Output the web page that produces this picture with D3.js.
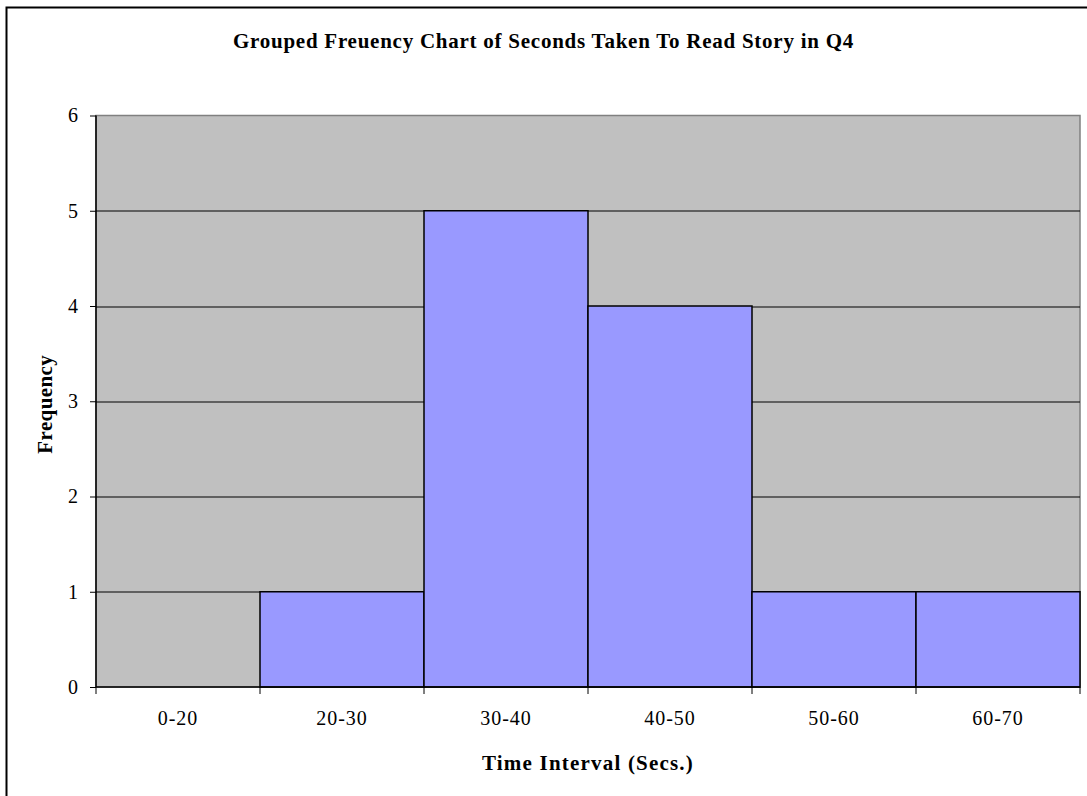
<!DOCTYPE html>
<html>
<head>
<meta charset="utf-8">
<script src="https://cdn.jsdelivr.net/npm/d3@7"></script>
<style>
  body { margin: 0; background: #fff; }
  svg text { font-family: "Liberation Serif", "Times New Roman", serif; fill: #000; }
</style>
</head>
<body>
<div id="chart"></div>
<script>
// data
var categories = ["0-20", "20-30", "30-40", "40-50", "50-60", "60-70"];
var frequencies = [0, 1, 5, 4, 1, 1];
var yTicks = [0, 1, 2, 3, 4, 5, 6];

var dataset = categories.map(function(c, i) {
  return {label: c, value: frequencies[i]};
});

// chart dimensions
var width = 1087;
var height = 796;
var margin = {top: 115.5, right: 7, bottom: 109, left: 96};
var plotW = width - margin.left - margin.right;
var plotH = height - margin.top - margin.bottom;

var svg = d3.select('#chart')
  .append('svg')
  .attr('width', width)
  .attr('height', height);

// outer chart border (right & bottom fall off the page)
svg.append('rect')
  .attr('x', 6.5).attr('y', 7.5)
  .attr('width', width + 10).attr('height', height + 10)
  .attr('fill', 'none')
  .attr('stroke', '#000')
  .attr('stroke-width', 2);

var g = svg.append('g')
  .attr('transform', 'translate(' + margin.left + ',' + margin.top + ')');

var x = d3.scaleBand()
  .domain(categories)
  .range([0, plotW])
  .padding(0);

var y = d3.scaleLinear()
  .domain([0, 6])
  .range([plotH, 0]);

// plot area
g.append('rect')
  .attr('width', plotW)
  .attr('height', plotH)
  .attr('fill', '#C0C0C0')
  .attr('stroke', '#808080')
  .attr('stroke-width', 1.5);

// gridlines
g.selectAll('.grid')
  .data(yTicks.filter(function(d) { return d > 0 && d < 6; }))
  .enter()
  .append('line')
  .attr('x1', 0).attr('x2', plotW)
  .attr('y1', function(d) { return Math.round(y(d)) + 0.5; })
  .attr('y2', function(d) { return Math.round(y(d)) + 0.5; })
  .attr('stroke', '#000')
  .attr('stroke-width', 1);

// bars
g.selectAll('.bar')
  .data(dataset.filter(function(d) { return d.value > 0; }))
  .enter()
  .append('rect')
  .attr('class', 'bar')
  .attr('x', function(d) { return x(d.label); })
  .attr('y', function(d) { return y(d.value); })
  .attr('height', function(d) { return plotH - y(d.value); })
  .attr('width', x.bandwidth())
  .attr('fill', '#9999FF')
  .attr('stroke', '#000')
  .attr('stroke-width', 1.5);

// y axis
var yAxis = g.append('g')
  .call(d3.axisLeft(y).tickValues(yTicks).tickSize(6).tickPadding(12).tickFormat(d3.format('d')));
yAxis.select('.domain').attr('stroke', '#000').attr('stroke-width', 1.5).attr('d', 'M0,' + plotH + 'V0');
yAxis.selectAll('.tick line').attr('stroke', '#000');
yAxis.selectAll('text').attr('font-family', null).style('font-size', '20px');

// x axis with ticks on band boundaries
var xAxis = g.append('g')
  .attr('transform', 'translate(0,' + plotH + ')')
  .call(d3.axisBottom(x).tickSize(0).tickPadding(22));
xAxis.select('.domain').attr('stroke', '#000').attr('stroke-width', 1.5).attr('d', 'M0,0H' + plotW);
xAxis.selectAll('text').attr('font-family', null).attr('dy', null).attr('y', 38)
  .style('font-size', '20px').style('letter-spacing', '1px');
xAxis.selectAll('.edge')
  .data(d3.range(categories.length + 1))
  .enter()
  .append('line')
  .attr('x1', function(i) { return i * x.step(); })
  .attr('x2', function(i) { return i * x.step(); })
  .attr('y1', 0).attr('y2', 7)
  .attr('stroke', '#000');

// title
svg.append('text')
  .attr('x', width / 2)
  .attr('y', 48)
  .attr('text-anchor', 'middle')
  .style('font-size', '21px')
  .style('font-weight', 'bold')
  .style('letter-spacing', '0.75px')
  .text('Grouped Freuency Chart of Seconds Taken To Read Story in Q4');

// axis titles
svg.append('text')
  .attr('x', margin.left + plotW / 2)
  .attr('y', 770)
  .attr('text-anchor', 'middle')
  .style('font-size', '21px')
  .style('font-weight', 'bold')
  .style('letter-spacing', '1.2px')
  .text('Time Interval (Secs.)');

svg.append('text')
  .attr('transform', 'translate(52,' + (margin.top + plotH / 2 + 3) + ') rotate(-90)')
  .attr('text-anchor', 'middle')
  .style('font-size', '21px')
  .style('font-weight', 'bold')
  .style('letter-spacing', '0.4px')
  .text('Frequency');
</script>
</body>
</html>
